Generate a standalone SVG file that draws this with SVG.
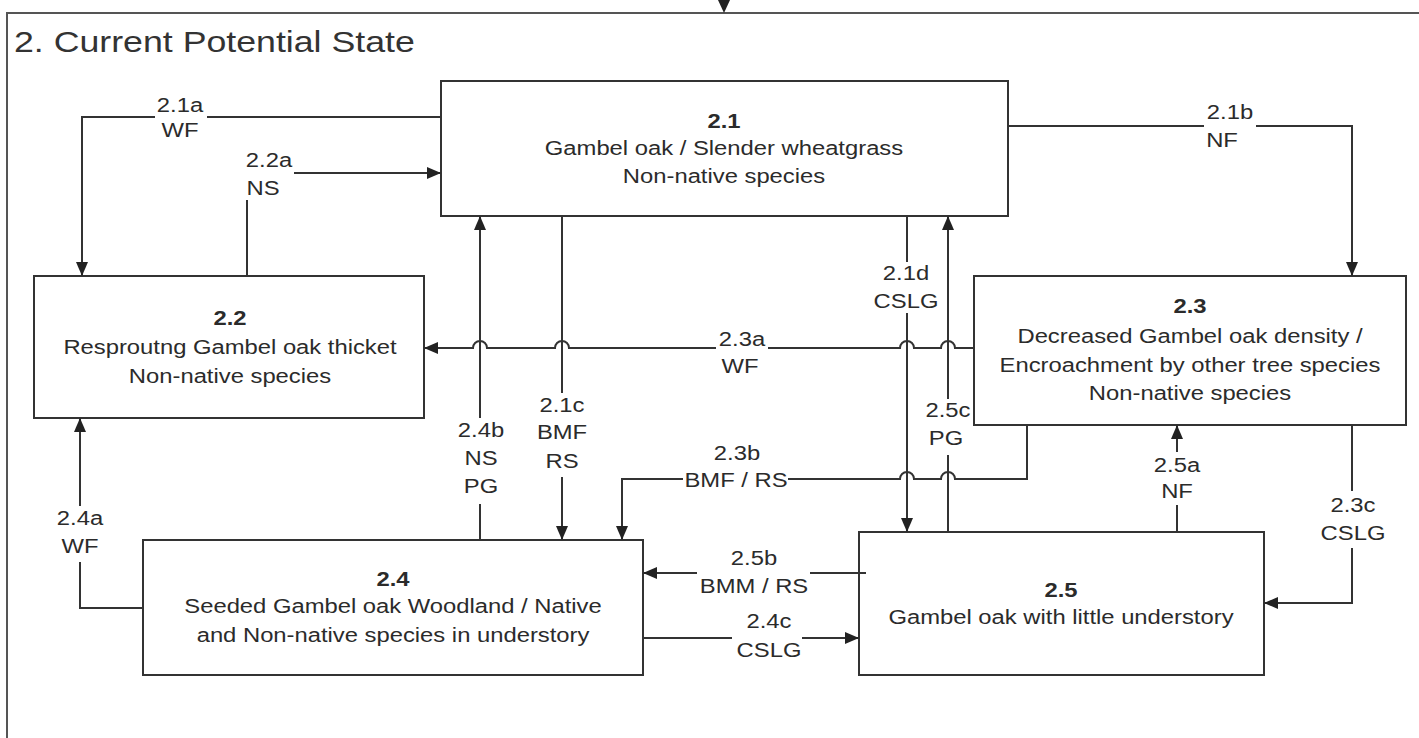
<svg xmlns="http://www.w3.org/2000/svg" width="1419" height="738" viewBox="0 0 1419 738">
<style>
.frame{fill:none;stroke:#555;stroke-width:2}
.box{fill:#fff;stroke:#333;stroke-width:2}
.ln{fill:none;stroke:#333;stroke-width:2}
.arr{marker-end:url(#ah)}
.t{font-family:"Liberation Sans",Arial,sans-serif;font-size:20px;fill:#2b2b2b;text-anchor:middle}
.b{font-weight:bold}
.title{font-family:"Liberation Sans",Arial,sans-serif;font-size:30px;fill:#333}
.bg{fill:#fff}
</style>
<defs>
<marker id="ah" markerWidth="14" markerHeight="12" refX="14" refY="6" orient="auto" markerUnits="userSpaceOnUse">
<path d="M0,0 L14,6 L0,12 z" fill="#222"/>
</marker>
</defs>
<rect width="1419" height="738" fill="#fff"/>
<g id="frame">
<path class="frame" d="M7,738 V13 H1419"/>
<polygon points="718,0 730,0 724,13" fill="#222"/>
<text class="title" transform="translate(14,52) scale(1.19,1)">2. Current Potential State</text>
</g>

<g id="n21">
<rect class="box" x="441" y="81" width="567" height="135"/>
<text class="t b" transform="translate(724,128) scale(1.19,1)">2.1</text>
<text class="t" transform="translate(724,155) scale(1.19,1)">Gambel oak / Slender wheatgrass</text>
<text class="t" transform="translate(724,183) scale(1.19,1)">Non-native species</text>
</g>
<g id="n22">
<rect class="box" x="34" y="276" width="390" height="142"/>
<text class="t b" transform="translate(230,325) scale(1.19,1)">2.2</text>
<text class="t" transform="translate(230,354) scale(1.19,1)">Resproutng Gambel oak thicket</text>
<text class="t" transform="translate(230,383) scale(1.19,1)">Non-native species</text>
</g>
<g id="n23">
<rect class="box" x="974" y="276" width="432" height="149"/>
<text class="t b" transform="translate(1190,313) scale(1.19,1)">2.3</text>
<text class="t" transform="translate(1190,343) scale(1.19,1)">Decreased Gambel oak density /</text>
<text class="t" transform="translate(1190,372) scale(1.19,1)">Encroachment by other tree species</text>
<text class="t" transform="translate(1190,400) scale(1.19,1)">Non-native species</text>
</g>
<g id="n24">
<rect class="box" x="143" y="540" width="500" height="135"/>
<text class="t b" transform="translate(393,586) scale(1.19,1)">2.4</text>
<text class="t" transform="translate(393,613) scale(1.19,1)">Seeded Gambel oak Woodland / Native</text>
<text class="t" transform="translate(393,642) scale(1.19,1)">and Non-native species in understory</text>
</g>
<g id="n25">
<rect class="box" x="859" y="532" width="405" height="143"/>
<text class="t b" transform="translate(1061,597) scale(1.19,1)">2.5</text>
<text class="t" transform="translate(1061,624) scale(1.19,1)">Gambel oak with little understory</text>
</g>

<g id="connectors">
<path class="ln arr" d="M441,117 H82 V276"/>
<path class="ln arr" d="M247,276 V173 H441"/>
<path class="ln arr" d="M1008,126 H1352 V276"/>
<path class="ln arr" d="M562,216 V540"/>
<path class="ln arr" d="M480,540 V216"/>
<path class="ln arr" d="M907,216 V532"/>
<path class="ln arr" d="M948,532 V216"/>
<path class="ln arr" d="M974,348 H955 A7,7 0 0 0 941,348 H914 A7,7 0 0 0 900,348 H569 A7,7 0 0 0 555,348 H487 A7,7 0 0 0 473,348 H424"/>
<path class="ln arr" d="M1027,425 V479 H955 A7,7 0 0 0 941,479 H914 A7,7 0 0 0 900,479 H622 V540"/>
<path class="ln arr" d="M1177,532 V425"/>
<path class="ln arr" d="M1352,425 V603 H1264"/>
<path class="ln arr" d="M143,608 H80 V418"/>
<path class="ln arr" d="M866,573 H643"/>
<path class="ln arr" d="M643,638 H859"/>

<g id="l21a"><rect class="bg" x="155" y="95" width="52" height="48"/>
<text class="t" transform="translate(180,112) scale(1.19,1)">2.1a</text>
<text class="t" transform="translate(180,137) scale(1.19,1)">WF</text></g>
<g id="l22a"><rect class="bg" x="242" y="148" width="52" height="52"/>
<text class="t" transform="translate(269,167) scale(1.19,1)">2.2a</text>
<text class="t" transform="translate(263,195) scale(1.19,1)">NS</text></g>
<g id="l21b"><rect class="bg" x="1204" y="100" width="52" height="52"/>
<text class="t" transform="translate(1230,119) scale(1.19,1)">2.1b</text>
<text class="t" transform="translate(1222,147) scale(1.19,1)">NF</text></g>
<g id="l21c"><rect class="bg" x="538" y="393" width="50" height="84"/>
<text class="t" transform="translate(562,412) scale(1.19,1)">2.1c</text>
<text class="t" transform="translate(562,439) scale(1.19,1)">BMF</text>
<text class="t" transform="translate(562,468) scale(1.19,1)">RS</text></g>
<g id="l24b"><rect class="bg" x="456" y="418" width="50" height="86"/>
<text class="t" transform="translate(481,437) scale(1.19,1)">2.4b</text>
<text class="t" transform="translate(481,465) scale(1.19,1)">NS</text>
<text class="t" transform="translate(481,493) scale(1.19,1)">PG</text></g>
<g id="l21d"><rect class="bg" x="874" y="262" width="64" height="51"/>
<text class="t" transform="translate(906,280) scale(1.19,1)">2.1d</text>
<text class="t" transform="translate(906,308) scale(1.19,1)">CSLG</text></g>
<g id="l25c"><rect class="bg" x="924" y="399" width="49" height="56"/>
<text class="t" transform="translate(948,417) scale(1.19,1)">2.5c</text>
<text class="t" transform="translate(946,445) scale(1.19,1)">PG</text></g>
<g id="l23a"><rect class="bg" x="716" y="329" width="52" height="48"/>
<text class="t" transform="translate(742,346) scale(1.19,1)">2.3a</text>
<text class="t" transform="translate(740,373) scale(1.19,1)">WF</text></g>
<g id="l23b"><rect class="bg" x="683" y="442" width="105" height="48"/>
<text class="t" transform="translate(737,460) scale(1.19,1)">2.3b</text>
<text class="t" transform="translate(736,487) scale(1.19,1)">BMF / RS</text></g>
<g id="l25a"><rect class="bg" x="1153" y="452" width="48" height="53"/>
<text class="t" transform="translate(1177,472) scale(1.19,1)">2.5a</text>
<text class="t" transform="translate(1177,498) scale(1.19,1)">NF</text></g>
<g id="l23c"><rect class="bg" x="1322" y="491" width="62" height="57"/>
<text class="t" transform="translate(1353,512) scale(1.19,1)">2.3c</text>
<text class="t" transform="translate(1353,540) scale(1.19,1)">CSLG</text></g>
<g id="l24a"><rect class="bg" x="56" y="506" width="48" height="56"/>
<text class="t" transform="translate(80,525) scale(1.19,1)">2.4a</text>
<text class="t" transform="translate(80,553) scale(1.19,1)">WF</text></g>
<g id="l25b"><rect class="bg" x="697" y="548" width="113" height="50"/>
<text class="t" transform="translate(754,565) scale(1.19,1)">2.5b</text>
<text class="t" transform="translate(754,593) scale(1.19,1)">BMM / RS</text></g>
<g id="l24c"><rect class="bg" x="732" y="611" width="70" height="51"/>
<text class="t" transform="translate(769,628) scale(1.19,1)">2.4c</text>
<text class="t" transform="translate(769,657) scale(1.19,1)">CSLG</text></g>
</g>
</svg>
